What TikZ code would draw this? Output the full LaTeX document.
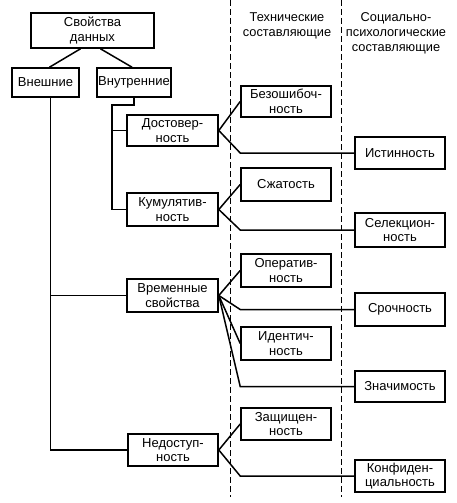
\documentclass[tikz,border=0pt]{standalone}
\usepackage{fontspec}
\setmainfont{Liberation Sans}
\begin{document}
\begin{tikzpicture}[x=1pt,y=-1pt,
  bx/.style={draw,line width=1.6pt,align=center,inner sep=0pt,font=\fontsize{13}{14.5}\selectfont},
  ln/.style={line width=1.5pt},
  dsh/.style={line width=0.9pt,dash pattern=on 6pt off 3pt}]
\useasboundingbox (0,0) rectangle (457,503);
% dashed separators
\coordinate (d1t) at (230,0); \coordinate (d1b) at (230,497);
\coordinate (d2t) at (341,0); \coordinate (d2b) at (341,497);
\draw[dsh] (d1t) -- (d1b);
\draw[dsh] (d2t) -- (d2b);
% headers
\node[align=center,font=\fontsize{12.8}{15}\selectfont] (h1) at (287,26) {Технические\\составляющие};
\node[align=center,font=\fontsize{12.8}{15}\selectfont] (h2) at (396,33.5) {Социально-\\психологические\\составляющие};
% left boxes
\node[bx,minimum width=123pt,minimum height=35pt] (top) at (92.5,30.5) {Свойства\\данных};
\node[bx,minimum width=67pt,minimum height=29pt] (vnesh) at (45.5,82.5) {Внешние};
\node[bx,minimum width=74pt,minimum height=29pt] (vnutr) at (134,82.5) {Внутренние};
\node[bx,minimum width=91pt,minimum height=31pt] (dost) at (172.5,130.5) {Достовер-\\ность};
\node[bx,minimum width=91pt,minimum height=33pt] (kum) at (172.5,209.5) {Кумулятив-\\ность};
\node[bx,minimum width=91pt,minimum height=33pt] (vrem) at (172.5,295.5) {Временные\\свойства};
\node[bx,minimum width=90pt,minimum height=32pt] (nedost) at (173,450) {Недоступ-\\ность};
% middle boxes
\node[bx,minimum width=90pt,minimum height=31pt] (bez) at (286,101.5) {Безошибоч-\\ность};
\node[bx,minimum width=90pt,minimum height=33pt] (szh) at (286,184.5) {Сжатость};
\node[bx,minimum width=90pt,minimum height=33pt] (oper) at (286,270.5) {Оператив-\\ность};
\node[bx,minimum width=90pt,minimum height=33pt] (ident) at (286,343.5) {Идентич-\\ность};
\node[bx,minimum width=90pt,minimum height=32pt] (zasch) at (286,424) {Защищен-\\ность};
% right boxes
\node[bx,minimum width=90pt,minimum height=32pt] (ist) at (400,153) {Истинность};
\node[bx,minimum width=90pt,minimum height=34pt] (sel) at (400,230) {Селекцион-\\ность};
\node[bx,minimum width=90pt,minimum height=33pt] (sroch) at (400,309.5) {Срочность};
\node[bx,minimum width=90pt,minimum height=31pt] (znach) at (400,386.5) {Значимость};
\node[bx,minimum width=90pt,minimum height=32pt] (konf) at (400,476) {Конфиден-\\циальность};
% tree connectors
\draw[ln] ([xshift=-12pt]top.south) -- ([xshift=4pt]vnesh.north);
\draw[ln] ([xshift=8pt]top.south) -- ([xshift=-2pt]vnutr.north);
\draw[ln] ([xshift=5pt]vnesh.south) coordinate (vs) -- (vs |- nedost.west) -- (nedost.west);
\draw[ln] (vs |- vrem.west) -- (vrem.west);
\coordinate (b1) at (112,105);
\draw[ln] (vnutr.south) -- (vnutr.south |- b1) -- (b1) -- (b1 |- kum.west) -- (kum.west);
\draw[ln] (b1 |- dost.west) -- (dost.west);
% fans
\draw[ln] (dost.east) -- (bez.west);
\draw[ln] (dost.east) -- (bez.west |- ist.west) -- (ist.west);
\draw[ln] (kum.east) -- (szh.west);
\draw[ln] (kum.east) -- (szh.west |- sel.west) -- (sel.west);
\draw[ln] (vrem.east) -- (oper.west);
\draw[ln] (vrem.east) -- (oper.west |- sroch.west) -- (sroch.west);
\draw[ln] (vrem.east) -- (ident.west);
\draw[ln] (vrem.east) -- (ident.west |- znach.west) -- (znach.west);
\draw[ln] (nedost.east) -- (zasch.west);
\draw[ln] (nedost.east) -- (zasch.west |- konf.west) -- (konf.west);
\end{tikzpicture}
\end{document}
